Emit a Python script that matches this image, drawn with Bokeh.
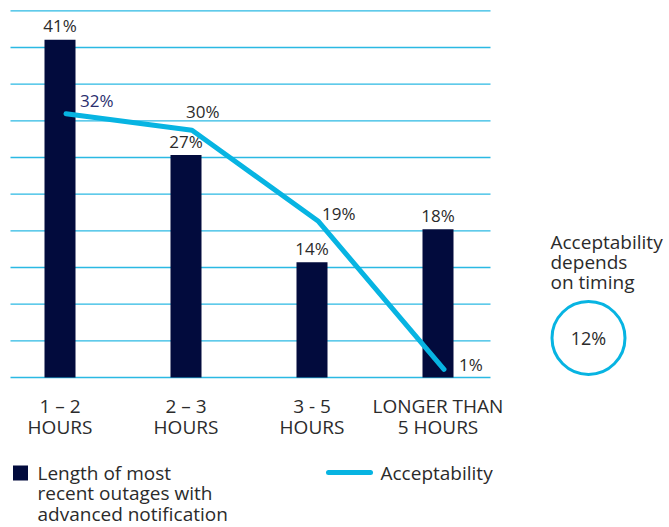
from bokeh.plotting import figure
from bokeh.models import Range1d
from bokeh.core.properties import value
from bokeh.embed import file_html
from bokeh.resources import INLINE

# ---- data -------------------------------------------------------------
categories = ["1 – 2\nHOURS", "2 – 3\nHOURS", "3 - 5\nHOURS", "LONGER THAN\n5 HOURS"]
outage_share = [41, 27, 14, 18]          # length of most recent outages (%)
acceptability = [32, 30, 19, 1]          # acceptability (%)
timing_dependent = 12                    # acceptability depends on timing (%)
grid_step = 4.45
grid_levels = [grid_step * i for i in range(11)]

bar_label = "Length of most\nrecent outages with\nadvanced notification"
line_label = "Acceptability"
side_note = "Acceptability\ndepends\non timing"

# ---- layout / style ---------------------------------------------------
W, H = 669, 527
X0_PX, X_STEP_PX = 59.5, 126.0      # pixel centre of first category, spacing
BASE_PX, Y_PX = 377.0, 8.24         # pixel row of 0 %, pixels per 1 %
BAR_W = 31 / X_STEP_PX
LINE_SHIFT = 6 / X_STEP_PX
GRID_X0, GRID_X1 = 10, 490

NAVY = "#020b3d"
CYAN = "#07b4e2"
GRID = "#2bb9e3"
TEXT = "#2b2b2b"
FONT = value("Open Sans")


def sx(px):
    return (px - X0_PX) / X_STEP_PX


def sy(py):
    return (BASE_PX - py) / Y_PX


p = figure(width=W, height=H, output_backend="svg", toolbar_location=None,
           x_axis_type=None, y_axis_type=None, min_border=0,
           x_range=Range1d(sx(0), sx(W)), y_range=Range1d(sy(H), sy(0)))
p.outline_line_color = None
p.xgrid.visible = False
p.ygrid.visible = False
p.background_fill_color = "white"

idx = list(range(len(categories)))

# horizontal rules
p.segment(x0=[sx(GRID_X0)] * len(grid_levels), x1=[sx(GRID_X1)] * len(grid_levels),
          y0=grid_levels, y1=grid_levels, line_color=GRID, line_width=1.3)

# bars
p.vbar(x=idx, top=outage_share, width=BAR_W, bottom=0, fill_color=NAVY, line_color=None)
p.text(x=idx, y=outage_share, text=[f"{v}%" for v in outage_share],
       text_font=FONT, text_font_size="17px", text_color=TEXT,
       text_align="center", text_baseline="alphabetic", y_offset=-14)

# acceptability line
line_x = [i + LINE_SHIFT for i in idx]
p.line(x=line_x, y=acceptability, line_color=CYAN, line_width=5,
       line_cap="round", line_join="round")
p.text(x=line_x, y=acceptability, text=[f"{v}%" for v in acceptability],
       text_font=FONT, text_font_size="17px",
       text_color=["#2a2e6e", TEXT, TEXT, TEXT],
       text_align="left", text_baseline="alphabetic",
       x_offset=[14, -6, 4, 15], y_offset=[-13, -19, -7, -5])

# category labels
p.text(x=idx, y=[sy(392)] * len(idx), text=categories,
       text_font=FONT, text_font_size="19px", text_color=TEXT,
       text_align="center", text_baseline="top", text_line_height=0.81)

# legend
p.scatter(x=[sx(20)], y=[sy(472.5)], marker="square", size=15,
          fill_color=NAVY, line_color=None)
p.text(x=[sx(37)], y=[sy(459)], text=[bar_label],
       text_font=FONT, text_font_size="19px", text_color=TEXT,
       text_align="left", text_baseline="top", text_line_height=0.8)
p.line(x=[sx(328), sx(370)], y=[sy(472)] * 2, line_color=CYAN, line_width=5,
       line_cap="round")
p.text(x=[sx(380)], y=[sy(459)], text=[line_label],
       text_font=FONT, text_font_size="19px", text_color=TEXT,
       text_align="left", text_baseline="top")

# timing note with ring
p.text(x=[sx(550)], y=[sy(228)], text=[side_note],
       text_font=FONT, text_font_size="19px", text_color=TEXT,
       text_align="left", text_baseline="top", text_line_height=0.78)
p.scatter(x=[sx(588)], y=[sy(337.5)], marker="circle", size=73,
          fill_color=None, line_color=CYAN, line_width=3)
p.text(x=[sx(588)], y=[sy(337.5)], text=[f"{timing_dependent}%"],
       text_font=FONT, text_font_size="18px", text_color=TEXT,
       text_align="center", text_baseline="middle")

open("out.html", "w").write(file_html(p, INLINE))
